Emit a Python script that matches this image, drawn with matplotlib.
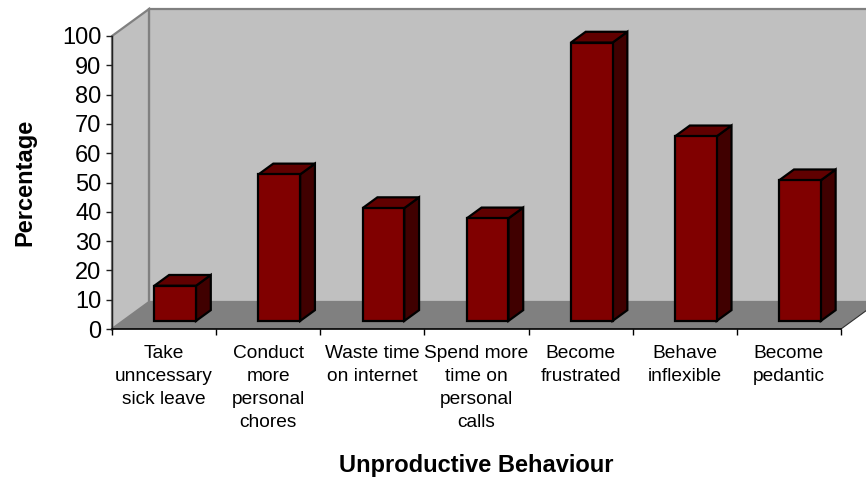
import matplotlib
matplotlib.use("Agg")
import matplotlib.pyplot as plt
from matplotlib.patches import Polygon
from matplotlib.ticker import FixedLocator, NullFormatter

plt.rcParams['font.family'] = ['Liberation Sans', 'DejaVu Sans']

categories = ["Take\nunncessary\nsick leave",
              "Conduct\nmore\npersonal\nchores",
              "Waste time\non internet",
              "Spend more\ntime on\npersonal\ncalls",
              "Become\nfrustrated",
              "Behave\ninflexible",
              "Become\npedantic"]
values = [12, 50, 38.5, 35, 95, 63, 48]
y_ticks = list(range(0, 101, 10))

W, H = 866, 478
fig = plt.figure(figsize=(W / 100, H / 100), dpi=100)
left_px, right_px, bot_px, top_px = 112, 841, 329, 36
ax = fig.add_axes([left_px / W, (H - bot_px) / H,
                   (right_px - left_px) / W, (bot_px - top_px) / H])
n = len(categories)
ax.set_xlim(0, n)
ax.set_ylim(0, 100)
ax.set_facecolor('none')

# oblique depth vector (data units)
DX, DY = 0.355, 9.2
F0, F1 = 0.3, 0.7
BW = 0.40

wall_c = '#C0C0C0'
floor_c = '#808080'
edge_c = '#808080'

# back wall
ax.add_patch(Polygon([(DX, DY), (n + DX, DY), (n + DX, 100 + DY), (DX, 100 + DY)],
                     closed=True, facecolor=wall_c, edgecolor=edge_c, lw=1.6,
                     clip_on=False, zorder=0.5))
# left side wall
ax.add_patch(Polygon([(0, 0), (DX, DY), (DX, 100 + DY), (0, 100)],
                     closed=True, facecolor=wall_c, edgecolor=edge_c, lw=1.6,
                     clip_on=False, zorder=0.6))
# floor
ax.add_patch(Polygon([(0, 0), (n, 0), (n + DX, DY), (DX, DY)],
                     closed=True, facecolor=floor_c, edgecolor='none',
                     clip_on=False, zorder=0.7))
ax.plot([n, n + DX], [0, DY], color='#303030', lw=0.8, clip_on=False, zorder=0.8)

# bars
front_c, top_c, side_c = '#800000', '#600000', '#400000'
ddx, ddy = (F1 - F0) * DX, (F1 - F0) * DY
for i, v in enumerate(values):
    x0 = i + 0.5 - BW / 2 + F0 * DX
    y0 = F0 * DY
    kw = dict(closed=True, edgecolor='black', lw=1.6, joinstyle='miter',
              clip_on=False, zorder=2 + i * 0.01)
    ax.add_patch(Polygon([(x0 + BW, y0), (x0 + BW + ddx, y0 + ddy),
                          (x0 + BW + ddx, y0 + ddy + v), (x0 + BW, y0 + v)],
                         facecolor=side_c, **kw))
    ax.add_patch(Polygon([(x0, y0 + v), (x0 + BW, y0 + v),
                          (x0 + BW + ddx, y0 + v + ddy), (x0 + ddx, y0 + v + ddy)],
                         facecolor=top_c, **kw))
    ax.add_patch(Polygon([(x0, y0), (x0 + BW, y0), (x0 + BW, y0 + v), (x0, y0 + v)],
                         facecolor=front_c, **kw))

# spines
for s in ['top', 'right']:
    ax.spines[s].set_visible(False)
ax.spines['left'].set_color('#202020')
ax.spines['left'].set_linewidth(1.0)
ax.spines['bottom'].set_color('black')
ax.spines['bottom'].set_linewidth(1.2)
ax.spines['left'].set_zorder(1)
ax.spines['bottom'].set_zorder(1)

# ticks
ax.set_yticks(y_ticks)
ax.set_yticklabels([str(t) for t in y_ticks])
ax.tick_params(axis='y', direction='out', length=4.5, width=1, color='#202020',
               labelsize=17, pad=3)
ax.set_xticks([i + 0.5 for i in range(n)])
ax.set_xticklabels(categories, fontsize=13.8, linespacing=1.46)
ax.tick_params(axis='x', which='major', length=0, pad=11.5)
ax.xaxis.set_minor_locator(FixedLocator(list(range(n + 1))))
ax.xaxis.set_minor_formatter(NullFormatter())
ax.tick_params(axis='x', which='minor', direction='out', length=4.5, width=1, color='black')
for lab in ax.get_xticklabels():
    lab.set_verticalalignment('top')

ax.set_xlabel('Unproductive Behaviour', fontsize=17, fontweight='bold')
ax.xaxis.set_label_coords(0.5, (bot_px - 472) / (bot_px - top_px))
ax.xaxis.label.set_verticalalignment('baseline')
ax.set_ylabel('Percentage', fontsize=17, fontweight='bold')
ax.yaxis.set_label_coords((25 - left_px) / (right_px - left_px), 0.5)
ax.yaxis.label.set_verticalalignment('center')

fig.savefig('out.png', dpi=100)
